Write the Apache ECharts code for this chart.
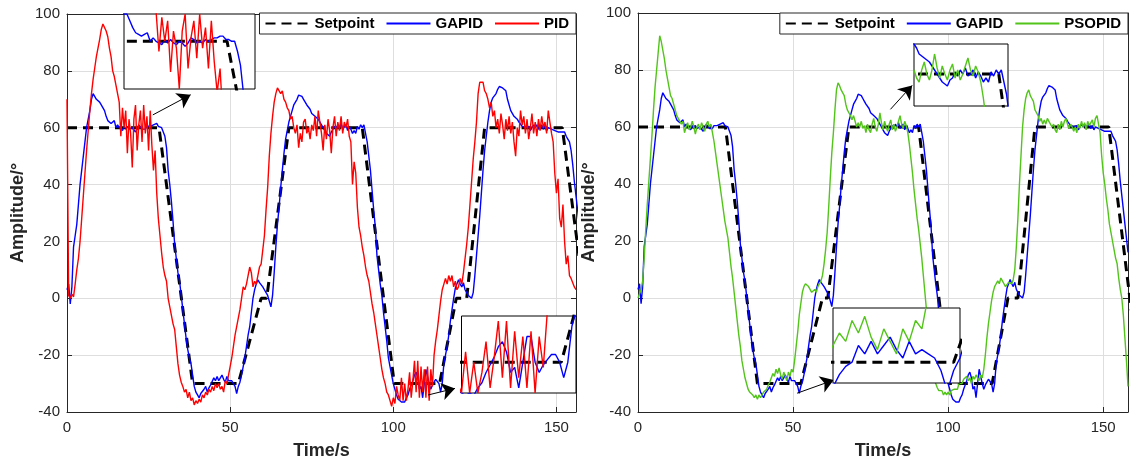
<!DOCTYPE html>
<html><head><meta charset="utf-8">
<script src="https://cdn.jsdelivr.net/npm/echarts@6/dist/echarts.min.js"></script>
<style>html,body{margin:0;padding:0;background:#fff}#c{width:1140px;height:468px}</style>
</head><body><div id="c"></div>
<script>
// ---- sample spacing (s) of the recorded responses ----
const DT = 0.5;

// ---- GAPID response (t = 0 .. 158 s) ----
const GAPID = [
 3, 5, -2, 4, 18, 22, 26, 33, 40, 45,
 50, 55, 60, 63, 66, 70, 72, 71.5, 70, 70.5,
 69, 68, 68, 66, 64, 62.5, 62, 61.5, 62, 62.5,
 60, 61, 60, 59.5, 59, 60.5, 59.5, 60.5, 59.5, 59,
 60, 59.5, 58.5, 59.5, 61, 60.5, 59.5, 60, 59.5, 60.5,
 60, 60.5, 61, 61, 61.5, 61.5, 60.5, 60.5, 60, 60,
 57, 53, 45, 40, 34, 27, 19, 14, 9, 6,
 1, -4, -9, -14, -18, -21, -23, -27, -31, -33,
 -34, -35, -33.5, -34, -32, -31, -33, -31.5, -30.5, -30,
 -28, -29, -27.5, -29, -28, -27, -28.5, -29.5, -27.5, -29,
 -28.5, -29, -29.5, -31, -33.5, -31, -29.5, -27, -24, -21,
 -17, -13, -10, -5, 0, 3, 5, 6.5, 5.5, 5,
 4, 3, 2, 1, -1, -3, 1, 9, 18, 26,
 32, 39, 45, 51, 56, 59, 62, 64, 66, 68,
 69, 70, 71.5, 72, 71, 70, 69, 68, 67.5, 66.5,
 65, 64.5, 64, 63.5, 63, 62, 61, 60, 59, 58,
 57.5, 57, 58.5, 59, 60.5, 59.5, 61, 60, 61.5, 59.5,
 60, 61, 59, 60.5, 59.5, 58, 59, 58, 60.5, 59.5,
 61, 60, 61, 58, 55, 50, 45, 38, 31, 25,
 15, 10, 5, 1, -5, -10, -15, -21, -24, -27,
 -30, -32, -34, -35.5, -36, -36.5, -36, -36.5, -35, -34,
 -32, -30.5, -29, -27, -26, -28, -32, -31, -35, -30,
 -25, -25, -30, -32, -30.5, -29.5, -28.5, -28.5, -30, -33,
 -30, -23, -20, -17, -13, -8, -4, 0, 3.5, 5,
 6.5, 5, 4, 5.5, 3, 2, 1, 0.5, 0, 2,
 8, 15, 22, 29, 37, 45, 52, 57, 62, 66,
 69, 70.5, 71, 72, 73.5, 74.5, 74.5, 74, 74.5, 73,
 70, 68, 66, 65.5, 64, 63.5, 63, 62, 61.5, 60.5,
 61, 60, 59.5, 60.5, 59, 60, 61, 60, 61, 59.5,
 60, 61, 59.5, 60.5, 59, 60, 60.5, 59.5, 60, 59,
 59.5, 58.5, 59, 58.5, 59, 58.5, 57, 56, 55, 52,
 47, 41, 36, 31, 26, 21, 16
];

// ---- PID response (t = 0 .. 156 s) ----
const PID = [
 70, 1, 0, 1.5, 0.5, 5, 10, 14, 20, 28,
 36, 44, 52, 59, 66, 72, 77, 81, 85, 88,
 91, 94.5, 96.5, 97, 94, 92, 88, 85, 80, 78,
 75, 72, 69, 57, 67, 60, 66, 51, 63, 58,
 46, 63, 68, 52, 61, 66, 55, 68, 58, 64,
 52, 66, 54, 45, 52, 37, 28, 22, 16, 11,
 8, 6, 0, -3, -6, -9, -11, -17, -23, -27,
 -29.5, -31, -33, -32, -35, -33, -36, -35, -37.5, -36,
 -37, -35.5, -36.5, -34, -35, -33, -34, -32, -33, -31,
 -32.5, -30, -31.5, -30, -32, -31, -33, -29, -30, -27,
 -24, -21, -17, -13, -10, -7, -4, 0, 4, 3,
 5, 8, 11, 9, 4, 6, 5, 8, 11, 12,
 17, 22, 31, 39, 50, 58, 64, 69, 72, 74,
 74.5, 72, 73, 70, 69, 67, 66, 63, 64, 60,
 58, 61, 53, 58, 55, 62, 63, 58, 60, 56,
 61, 59, 64, 57, 66, 62, 58, 52, 61, 56,
 63, 59, 51, 60, 64, 57, 62, 59, 64, 58,
 62, 60, 63, 57, 55, 40, 48, 44, 32, 25,
 22, 18, 15, 11, 8, 6, 2, -2, -5, -9,
 -13, -17, -21, -25, -28, -30, -33, -34, -36, -38,
 -35, -37, -31, -34, -36, -28, -36, -30, -36, -32,
 -26, -35, -29, -22, -33, -22, -35, -24, -33, -25,
 -35, -24, -36, -25, -31, -20, -15, -11, -6, -1,
 3, 5, 7, 5, 8, 6, 8, 4, 6, 3,
 4, 7, 5, 9, 14, 19, 25, 33, 41, 49,
 55, 62, 72, 76, 75.5, 76, 73, 72, 70, 67,
 69, 64, 66, 60, 63, 58, 65, 61, 56, 63,
 59, 64, 58, 62, 55, 50, 60, 57, 66, 61,
 64, 58, 63, 56, 60, 65, 58, 62, 57, 63,
 59, 64, 60, 62, 58, 66, 62, 58, 55, 44,
 37, 42, 28, 25, 33, 20, 12, 15, 8, 7,
 7, 4, 3
];

// ---- PSOPID response (t = 0 .. 158 s) ----
const PSOPID = [
 0, 0.5, 3, 6, 14, 24, 33, 41, 49, 57,
 66, 74, 80, 86, 92, 90, 87, 84, 80, 77,
 74, 71, 70, 68, 66, 64, 63.5, 62, 61, 62,
 58, 60, 61.5, 59, 60, 62, 60, 57.5, 60, 61,
 59, 61.5, 60, 58.5, 61, 62, 60, 61, 58, 55,
 51, 47, 43, 39, 35, 31, 27, 24, 21, 16,
 11, 7, 2, -3, -8, -13, -17, -22, -25, -28,
 -30, -32, -33, -33.5, -34, -35, -34, -35.5, -34, -35,
 -34, -33, -33, -32, -30.5, -29.5, -28, -26.5, -27.5, -25,
 -26.5, -24.5, -27, -28.5, -26, -27.5, -29, -26, -27.5, -25,
 -26, -22, -17, -12, -6, -2, 2, 4, 5, 5.5,
 4, 4.5, 2, 1.5, 3, 2, 4, 5, 6, 8,
 12, 17, 23, 32, 42, 51, 58, 66, 73, 75.5,
 74.5, 73, 72.5, 71, 68, 66, 65, 64, 62.5, 64,
 62, 60, 61.5, 60, 62, 59.5, 60.5, 58, 61, 59,
 58, 61, 63, 60, 58.5, 61, 65, 61.5, 59, 62,
 60, 58.5, 61, 62.5, 59, 61, 58.5, 60, 62, 64,
 61, 59.5, 62, 60.5, 58, 54, 49, 44, 38, 33,
 28, 24, 19, 14, 8, 2, -4, -9, -15, -20,
 -25, -28, -30, -31.5, -32.5, -33, -32.5, -34, -33, -34,
 -33, -34, -32.5, -33, -32, -31.5, -32, -30, -29.5, -30,
 -28.5, -29, -27.5, -29, -28, -30, -27.5, -28.5, -27, -28,
 -29, -27, -28, -25, -20, -14, -9, -5, -1, 2,
 4, 5, 6, 5, 7, 6, 5, 4, 4.5, 5.5,
 6, 5, 6.5, 10, 18, 28, 40, 50, 60, 66,
 70, 72, 73, 71, 70, 69, 66, 65, 64, 62,
 63, 61, 62.5, 61, 63, 62, 62.5, 60, 61, 59,
 58, 61, 59, 62, 60, 62, 63, 61, 59.5, 61,
 60, 58.5, 60, 58, 61, 59.5, 62, 60, 61.5, 59,
 62, 60.5, 61, 62.5, 60, 63, 64, 61, 58, 50,
 44, 40, 35, 31, 26, 23, 20, 17, 14, 12,
 7, 3, 0, -6, -14, -22, -31
];

// ---- Setpoint breakpoints ----
const SP_T = [0, 28.2, 38.5, 52.5, 59.5, 61.2, 68, 90.5, 100.3, 114.2, 119.3, 122.5, 128, 151.8, 162];
const SP_V = [60, 60, -30, -30, 0, 0, 60, 60, -30, -30, 0, 0, 60, 60, -30];

// ---- axes ----
const Y_MIN = -40, Y_MAX = 100, Y_STEP = 20;
const X_STEP = 50, X_MAX_L = 156, X_MAX_R = 158;

// ---- zoomed inset windows [t range], [value range] ----
const INSET_L1 = [[10.5, 33], [46, 68]];
const INSET_L2 = [[102, 116], [-36, -21]];
const INSET_R1 = [[74, 92.3], [52, 67.5]];
const INSET_R2 = [[43, 53], [-32.5, -23.5]];

// ---- arrow annotations (tail, head) in data units ----
const ARROWS_L = [[[26.3, 64.5], [37.9, 71.6]], [[110.7, -34], [118.9, -31.7]]];
const ARROWS_R = [[[81.4, 66.2], [88.4, 74.6]], [[51.3, -33.4], [63.1, -28.8]]];

const FONT = '"Liberation Sans", Arial, Helvetica, sans-serif';
const C_BLUE = '#0000ff', C_RED = '#ff0000', C_GREEN = '#52c41a', C_SP = '#000000', C_AX = '#262626';

const pts = a => a.map((v, i) => [+(i * DT).toFixed(2), v]);
const spPts = SP_T.map((t, i) => [t, SP_V[i]]);

const mainGridL = {left: 67, top: 14, width: 509, height: 398};
const mainGridR = {left: 638, top: 13, width: 490, height: 399};
const insetStyle = {show: true, backgroundColor: '#fff', borderColor: '#000', borderWidth: 1, z: 10};

const grids = [
  mainGridL, mainGridR,
  Object.assign({left: 124, top: 14, width: 131, height: 75}, insetStyle),
  Object.assign({left: 461.5, top: 316, width: 114.5, height: 77}, insetStyle),
  Object.assign({left: 914, top: 44, width: 94, height: 62}, insetStyle),
  Object.assign({left: 833, top: 308, width: 127, height: 75}, insetStyle)
];

function mainX(gi, max, pos) {
  const bottom = pos === 'bottom';
  return {
    type: 'value', gridIndex: gi, position: pos, min: 0, max: max, interval: X_STEP,
    axisLine: {show: true, onZero: false, lineStyle: {color: C_AX, width: 1}},
    axisTick: {show: true, inside: true, length: 5, lineStyle: {color: C_AX}},
    axisLabel: {show: bottom, showMaxLabel: false, color: C_AX, fontSize: 15, fontFamily: FONT, margin: 8},
    splitLine: {show: bottom, lineStyle: {color: '#dedede', width: 1}},
    name: bottom ? 'Time/s' : '', nameLocation: 'middle', nameGap: 30,
    nameTextStyle: {fontSize: 18, fontWeight: 'bold', color: C_AX, fontFamily: FONT}
  };
}
function mainY(gi, pos) {
  const left = pos === 'left';
  return {
    type: 'value', gridIndex: gi, position: pos, min: Y_MIN, max: Y_MAX, interval: Y_STEP,
    axisLine: {show: true, onZero: false, lineStyle: {color: C_AX, width: 1}},
    axisTick: {show: true, inside: true, length: 5, lineStyle: {color: C_AX}},
    axisLabel: {show: left, color: C_AX, fontSize: 15, fontFamily: FONT, margin: 7},
    splitLine: {show: left, lineStyle: {color: '#dedede', width: 1}},
    name: left ? 'Amplitude/°' : '', nameLocation: 'middle', nameGap: 40, nameRotate: 90,
    nameTextStyle: {fontSize: 18, fontWeight: 'bold', color: C_AX, fontFamily: FONT}
  };
}
function insetX(gi, w) { return {type: 'value', gridIndex: gi, min: w[0][0], max: w[0][1], show: false, splitLine: {show: false}}; }
function insetY(gi, w) { return {type: 'value', gridIndex: gi, min: w[1][0], max: w[1][1], show: false, splitLine: {show: false}}; }

const xAxes = [mainX(0, X_MAX_L, 'bottom'), mainX(0, X_MAX_L, 'top'), mainX(1, X_MAX_R, 'bottom'), mainX(1, X_MAX_R, 'top'),
  insetX(2, INSET_L1), insetX(3, INSET_L2), insetX(4, INSET_R1), insetX(5, INSET_R2)];
const yAxes = [mainY(0, 'left'), mainY(0, 'right'), mainY(1, 'left'), mainY(1, 'right'),
  insetY(2, INSET_L1), insetY(3, INSET_L2), insetY(4, INSET_R1), insetY(5, INSET_R2)];

function line(name, data, color, xi, yi, z, dashed) {
  return {
    name: name, type: 'line', data: data, xAxisIndex: xi, yAxisIndex: yi,
    symbol: 'none', showSymbol: false, clip: true, z: z, silent: true, animation: false,
    lineStyle: dashed ? {color: color, width: 3, type: [10, 6]} : {color: color, width: 1.4},
    itemStyle: {color: color}
  };
}
function arrows(list) {
  return {
    silent: true, symbol: ['none', 'arrow'], symbolSize: 13, animation: false,
    label: {show: false},
    lineStyle: {color: '#000', width: 1, type: 'solid'},
    itemStyle: {color: '#000'},
    data: list.map(a => [{coord: a[0]}, {coord: a[1]}])
  };
}

const series = [];
// main left
const spL = line('Setpoint', spPts, C_SP, 0, 0, 2, true); spL.markLine = arrows(ARROWS_L);
series.push(spL, line('GAPID', pts(GAPID), C_BLUE, 0, 0, 2), line('PID', pts(PID), C_RED, 0, 0, 2));
// main right
const spR = line('Setpoint', spPts, C_SP, 2, 2, 2, true); spR.markLine = arrows(ARROWS_R);
series.push(spR, line('GAPID', pts(GAPID), C_BLUE, 2, 2, 2), line('PSOPID', pts(PSOPID), C_GREEN, 2, 2, 2));
// insets
[[4, PID, C_RED], [5, PID, C_RED], [6, PSOPID, C_GREEN], [7, PSOPID, C_GREEN]].forEach(function (d) {
  series.push(line('', spPts, C_SP, d[0], d[0], 11, true));
  series.push(line('', pts(GAPID), C_BLUE, d[0], d[0], 11));
  series.push(line('', pts(d[1]), d[2], d[0], d[0], 11));
});

const legendCommon = {
  top: 13, orient: 'horizontal', itemWidth: 44, itemHeight: 12, itemGap: 11,
  backgroundColor: '#fff', borderColor: C_AX, borderWidth: 1, padding: [3, 7, 3, 5],
  itemStyle: {opacity: 0, color: 'rgba(0,0,0,0)', borderWidth: 0},
  textStyle: {fontSize: 15, fontWeight: 'bold', color: '#000', fontFamily: FONT},
  selectedMode: false, z: 20
};

const chart = echarts.init(document.getElementById('c'), null, {renderer: 'canvas'});
chart.setOption({
  backgroundColor: '#fff',
  animation: false,
  textStyle: {fontFamily: FONT},
  grid: grids,
  xAxis: xAxes,
  yAxis: yAxes,
  legend: [
    Object.assign({data: ['Setpoint', 'GAPID', 'PID'], right: 1140 - 576}, legendCommon),
    Object.assign({data: ['Setpoint', 'GAPID', 'PSOPID'], right: 1140 - 1128}, legendCommon)
  ],
  series: series
});
</script>
</body></html>
